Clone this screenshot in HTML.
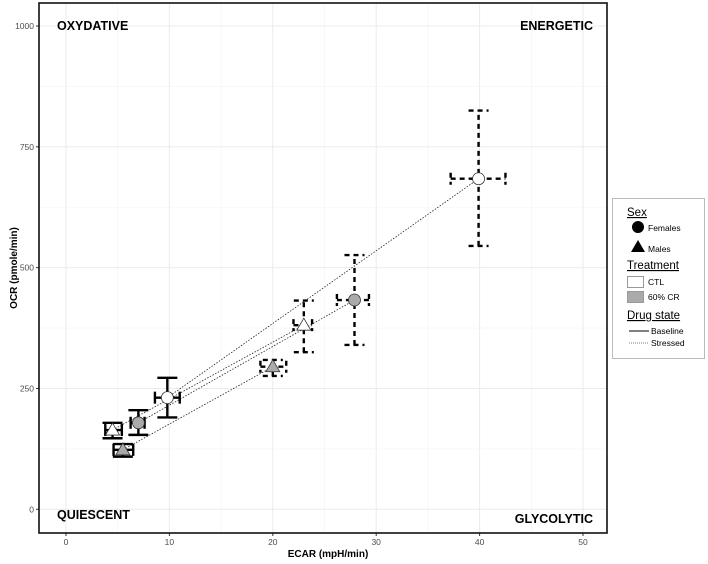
<!DOCTYPE html>
<html><head><meta charset="utf-8"><style>
body{margin:0;background:#fff;font-family:"Liberation Sans",sans-serif}
svg{display:block}
</style></head><body>
<svg id="chart" width="708" height="564" xmlns="http://www.w3.org/2000/svg"></svg>
<script>
const groups = ["ctl-female","cr-female","ctl-male","cr-male"];
const shapes = ["circle","circle","triangle","triangle"];
const fills = ["#ffffff","#aaaaaa","#ffffff","#aaaaaa"];
const baseX = [9.8, 7.0, 4.5, 5.5];
const baseY = [231, 179, 164, 123];
const baseXlo = [8.6, 6.25, 3.8, 4.6];
const baseXhi = [11.0, 7.6, 5.4, 6.5];
const baseYlo = [190, 154, 147, 109];
const baseYhi = [272, 205, 179, 135];
const strX = [39.9, 27.9, 23.0, 20.0];
const strY = [684, 433, 381, 295];
const strXlo = [37.2, 26.2, 22.0, 18.8];
const strXhi = [42.5, 29.3, 23.8, 21.3];
const strYlo = [545, 340, 325, 276];
const strYhi = [825, 526, 432, 309];
const xTicks = [0,10,20,30,40,50];
const yTicks = [0,250,500,750,1000];

const NS="http://www.w3.org/2000/svg";
const svg=document.getElementById('chart');
const L=39,T=3,R=607,B=533;
const sx=v=>66+v*10.34;
const sy=v=>509.3-v*0.4833;
function el(tag,attrs,parent){const e=document.createElementNS(NS,tag);for(const k in attrs)e.setAttribute(k,attrs[k]);(parent||svg).appendChild(e);return e;}

const grid=el('g',{});


for(let v=-5;v<=55;v+=5){const x=sx(v);if(x<=L||x>=R)continue;el('line',{x1:x,x2:x,y1:T,y2:B,stroke:v%10===0?'#ebebeb':'#f4f4f4','stroke-width':v%10===0?1:0.6},grid);}
for(let v=-125;v<=1125;v+=125){const y=sy(v);if(y<=T||y>=B)continue;el('line',{x1:L,x2:R,y1:y,y2:y,stroke:v%250===0?'#ebebeb':'#f4f4f4','stroke-width':v%250===0?1:0.6},grid);}

xTicks.forEach(v=>{
  const t=el('text',{x:sx(v),y:545,'text-anchor':'middle','font-size':8.5,fill:'#4d4d4d'});
  
  
  t.textContent=v;
  el('line',{x1:sx(v),x2:sx(v),y1:B,y2:B+3,stroke:'#333','stroke-width':1});
});
yTicks.forEach(v=>{
  const t=el('text',{x:34,y:sy(v)+3,'text-anchor':'end','font-size':8.5,fill:'#4d4d4d'});
  
  
  t.textContent=v;
  el('line',{x1:L-3,x2:L,y1:sy(v),y2:sy(v),stroke:'#333','stroke-width':1});
});

for(let i=0;i<groups.length;i++){
  const ln=el('line',{x1:sx(baseX[i]),y1:sy(baseY[i]),x2:sx(strX[i]),y2:sy(strY[i]),stroke:'#222','stroke-width':0.8,'stroke-dasharray':'1.5,1.5'});
  
  
}
function errbars(i,X,Y,xl,xh,yl,yh,dash,label){
  const g=el('g',{stroke:'#000','stroke-width':2.4,fill:'none'});
  
  
  const da=dash?{'stroke-dasharray':'5,4'}:{};
  const cx=sx(X[i]),cy=sy(Y[i]);
  el('line',Object.assign({x1:cx,x2:cx,y1:sy(yl[i]),y2:sy(yh[i])},da),g);
  el('line',Object.assign({x1:cx-10,x2:cx+10,y1:sy(yl[i]),y2:sy(yl[i])},da),g);
  el('line',Object.assign({x1:cx-10,x2:cx+10,y1:sy(yh[i]),y2:sy(yh[i])},da),g);
  el('line',Object.assign({x1:sx(xl[i]),x2:sx(xh[i]),y1:cy,y2:cy},da),g);
  el('line',Object.assign({x1:sx(xl[i]),x2:sx(xl[i]),y1:cy-6,y2:cy+6},da),g);
  el('line',Object.assign({x1:sx(xh[i]),x2:sx(xh[i]),y1:cy-6,y2:cy+6},da),g);
}
function point(i,X,Y,label){
  const cx=sx(X[i]),cy=sy(Y[i]);let p;
  if(shapes[i]==='circle') p=el('circle',{cx:cx,cy:cy,r:6,fill:fills[i],stroke:'#333','stroke-width':0.8});
  else p=el('polygon',{points:`${cx},${cy-7} ${cx-7},${cy+5} ${cx+7},${cy+5}`,fill:fills[i],stroke:'#333','stroke-width':0.8});
  
  
}
for(let i=0;i<groups.length;i++){
  errbars(i,baseX,baseY,baseXlo,baseXhi,baseYlo,baseYhi,false,'baseline');
  errbars(i,strX,strY,strXlo,strXhi,strYlo,strYhi,true,'stressed');
}
for(let i=0;i<groups.length;i++){point(i,baseX,baseY,'baseline');point(i,strX,strY,'stressed');}

const pb=el('rect',{x:L,y:T,width:R-L,height:B-T,fill:'none',stroke:'#111','stroke-width':1.6});



[["OXYDATIVE",57,30,'start'],["ENERGETIC",593,30,'end'],["QUIESCENT",57,519,'start'],["GLYCOLYTIC",593,523,'end']].forEach(a=>{
  const t=el('text',{x:a[1],y:a[2],'text-anchor':a[3],'font-size':12.5,'font-weight':'bold',fill:'#000'});
  
  
  t.textContent=a[0];
});
const xt=el('text',{x:328,y:557,'text-anchor':'middle','font-size':10,'font-weight':'bold'});


xt.textContent='ECAR (mpH/min)';
const yt=el('text',{x:0,y:0,'text-anchor':'middle','font-size':10,'font-weight':'bold',transform:'translate(17,268) rotate(-90)'});


yt.textContent='OCR (pmole/min)';

const lg=el('g',{});


el('rect',{x:612.5,y:198.5,width:92,height:160,fill:'#fff',stroke:'#bbb','stroke-width':1},lg);
function txt(s,x,y,size,ul,name){const t=el('text',{x:x,y:y,'font-size':size,fill:'#000'},lg);if(ul)t.setAttribute('text-decoration','underline');t.textContent=s;return t;}
txt('Sex',627,216,11.5,true,'legend-title-sex');
el('circle',{cx:638,cy:227,r:6,fill:'#000'},lg);
txt('Females',648,231,8.5,false,'legend-entry-females');
el('polygon',{points:'638,240 631,252 645,252',fill:'#000'},lg);
txt('Males',648,252,8.5,false,'legend-entry-males');
txt('Treatment',627,269,11.5,true,'legend-title-treatment');
el('rect',{x:627.5,y:276.5,width:16,height:11,fill:'#fff',stroke:'#999'},lg);
txt('CTL',648,285,8.5,false,'legend-entry-ctl');
el('rect',{x:627.5,y:291.5,width:16,height:11,fill:'#aaa',stroke:'#999'},lg);
txt('60% CR',648,300,8.5,false,'legend-entry-60cr');
txt('Drug state',627,319,11.5,true,'legend-title-drug-state');
el('line',{x1:629,x2:649,y1:331,y2:331,stroke:'#000','stroke-width':1},lg);
txt('Baseline',651,334,8.5,false,'legend-entry-baseline');
el('line',{x1:629,x2:649,y1:343,y2:343,stroke:'#555','stroke-width':0.8,'stroke-dasharray':'1,1'},lg);
txt('Stressed',651,346,8.5,false,'legend-entry-stressed');
</script>
</body></html>
